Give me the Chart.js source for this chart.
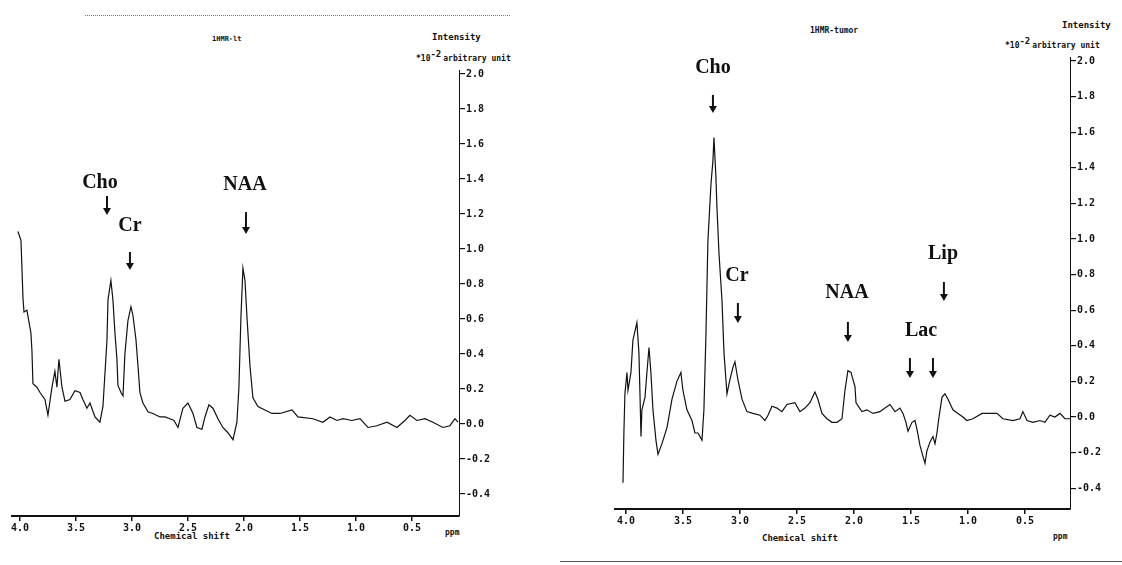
<!DOCTYPE html>
<html lang="en">
<head>
    <meta charset="UTF-8">
    <title>1H MR spectra</title>
    <script src="https://cdn.jsdelivr.net/npm/chart.js"></script>
    <style>
        body {
            margin: 0;
            background: #fff;
            width: 1122px;
            height: 565px;
            position: relative;
            overflow: hidden;
            font-family: 'DejaVu Sans Mono', monospace;
            color: #111;
        }
        .box { position: absolute; }
        .t {
            position: absolute;
            font-weight: bold;
            white-space: nowrap;
            line-height: 1;
        }
        .t sup { font-size: 9px; vertical-align: 4px; margin-right: 2px; }
        .scan-top { position: absolute; left: 85px; top: 15px; width: 425px; border-top: 1px dotted #777; }
        .scan-bottom { position: absolute; left: 560px; top: 561px; width: 562px; border-top: 1px solid #555; }
    </style>
</head>
<body>
    <div class="scan-top"></div>
    <div class="scan-bottom"></div>

    <div class="t" style="left:212px;top:36px;font-size:7px">1HMR-lt</div>
    <div class="t" style="left:432px;top:33px;font-size:9px">Intensity</div>
    <div class="t" style="left:416px;top:50px;font-size:8px">*10<sup>-2</sup>arbitrary unit</div>
    <div class="t" style="left:154px;top:532px;font-size:9px">Chemical shift</div>
    <div class="t" style="left:445px;top:529px;font-size:8px">ppm</div>

    <div class="t" style="left:810px;top:27px;font-size:8px">1HMR-tumor</div>
    <div class="t" style="left:1062px;top:21px;font-size:9px">Intensity</div>
    <div class="t" style="left:1005px;top:37px;font-size:8px">*10<sup>-2</sup>arbitrary unit</div>
    <div class="t" style="left:762px;top:534px;font-size:9px">Chemical shift</div>
    <div class="t" style="left:1053px;top:533px;font-size:8px">ppm</div>

    <div class="box" style="left:0;top:60px"><canvas id="ltChart" width="504" height="486"></canvas></div>
    <div class="box" style="left:600px;top:47px"><canvas id="tuChart" width="515" height="492"></canvas></div>

    <script>
        // chemical shift (ppm) and intensity (*10^-2 arbitrary unit)
        const ltShift = [4.018, 3.991, 3.973, 3.964, 3.938, 3.902, 3.893, 3.884, 3.848, 3.821, 3.777, 3.750, 3.714, 3.688, 3.670, 3.652, 3.625, 3.598, 3.554, 3.509,
            3.464, 3.438, 3.402, 3.375, 3.330, 3.286, 3.259, 3.223, 3.214, 3.188, 3.170, 3.152, 3.134, 3.125, 3.098, 3.080, 3.063, 3.036, 3.009, 2.991,
            2.964, 2.946, 2.929, 2.902, 2.857, 2.813, 2.750, 2.705, 2.661, 2.625, 2.589, 2.545, 2.500, 2.455, 2.420, 2.375, 2.348, 2.313, 2.277, 2.232,
            2.188, 2.143, 2.098, 2.063, 2.045, 2.027, 2.009, 1.991, 1.973, 1.946, 1.920, 1.875, 1.813, 1.750, 1.696, 1.679, 1.571, 1.518, 1.384, 1.295,
            1.232, 1.170, 1.116, 1.036, 0.964, 0.893, 0.813, 0.723, 0.634, 0.563, 0.518, 0.455, 0.384, 0.313, 0.223, 0.161, 0.116, 0.089];
        const ltIntensity = [1.10, 1.05, 0.72, 0.64, 0.65, 0.52, 0.42, 0.23, 0.21, 0.18, 0.14, 0.05, 0.21, 0.30, 0.21, 0.37, 0.21, 0.13, 0.14, 0.19,
            0.18, 0.14, 0.09, 0.12, 0.04, 0.01, 0.10, 0.48, 0.71, 0.82, 0.71, 0.52, 0.37, 0.22, 0.18, 0.16, 0.40, 0.59, 0.67, 0.62,
            0.48, 0.33, 0.18, 0.12, 0.07, 0.06, 0.04, 0.04, 0.03, 0.02, -0.02, 0.09, 0.12, 0.06, -0.02, -0.03, 0.04, 0.11, 0.09, 0.03,
            -0.02, -0.05, -0.09, 0.01, 0.21, 0.61, 0.89, 0.82, 0.61, 0.33, 0.15, 0.10, 0.08, 0.06, 0.06, 0.06, 0.08, 0.04, 0.03, 0.01,
            0.04, 0.02, 0.03, 0.02, 0.03, -0.02, -0.01, 0.01, -0.02, 0.02, 0.05, 0.02, 0.03, 0.01, -0.02, -0.01, 0.03, 0.01];

        const tuShift = [4.026, 4.018, 4.009, 3.991, 3.982, 3.956, 3.939, 3.904, 3.886, 3.877, 3.868, 3.860, 3.833, 3.816, 3.798, 3.781, 3.763, 3.737, 3.719, 3.684,
            3.640, 3.596, 3.553, 3.518, 3.500, 3.465, 3.421, 3.395, 3.368, 3.333, 3.316, 3.298, 3.281, 3.254, 3.237, 3.228, 3.211, 3.202, 3.184, 3.158,
            3.140, 3.123, 3.114, 3.088, 3.061, 3.044, 3.018, 2.982, 2.939, 2.886, 2.825, 2.781, 2.754, 2.719, 2.675, 2.632, 2.588, 2.518, 2.474, 2.430,
            2.386, 2.342, 2.316, 2.281, 2.237, 2.193, 2.149, 2.105, 2.079, 2.053, 2.026, 1.991, 1.982, 1.930, 1.886, 1.833, 1.772, 1.728, 1.684, 1.640,
            1.596, 1.570, 1.544, 1.526, 1.491, 1.465, 1.447, 1.421, 1.395, 1.377, 1.360, 1.333, 1.307, 1.289, 1.272, 1.254, 1.228, 1.202, 1.175, 1.132,
            1.088, 1.044, 1.009, 0.956, 0.877, 0.807, 0.746, 0.693, 0.605, 0.544, 0.518, 0.482, 0.430, 0.368, 0.325, 0.281, 0.237, 0.193, 0.149, 0.105];
        const tuIntensity = [-0.37, -0.09, 0.13, 0.25, 0.15, 0.25, 0.43, 0.53, 0.36, 0.13, -0.11, 0.04, 0.11, 0.25, 0.39, 0.25, 0.04, -0.13, -0.21, -0.15,
            -0.06, 0.10, 0.20, 0.25, 0.15, 0.04, -0.02, -0.09, -0.09, -0.13, 0.04, 0.47, 0.99, 1.31, 1.44, 1.57, 1.35, 1.18, 0.92, 0.66,
            0.36, 0.21, 0.13, 0.21, 0.28, 0.31, 0.21, 0.10, 0.03, 0.02, 0.01, -0.02, 0.01, 0.06, 0.05, 0.03, 0.07, 0.08, 0.03, 0.05,
            0.08, 0.14, 0.10, 0.02, -0.01, -0.03, -0.03, -0.01, 0.15, 0.26, 0.25, 0.17, 0.08, 0.03, 0.04, 0.02, 0.03, 0.05, 0.07, 0.03,
            0.05, 0.02, -0.03, -0.08, -0.03, -0.02, -0.07, -0.16, -0.22, -0.26, -0.19, -0.14, -0.11, -0.15, -0.09, 0.00, 0.11, 0.13, 0.10, 0.04,
            0.02, 0.00, -0.02, -0.01, 0.02, 0.02, 0.02, -0.01, -0.02, -0.01, 0.03, -0.02, -0.03, -0.02, -0.03, 0.01, 0.00, 0.02, -0.01, -0.01];

        const shiftTicks = [4.0, 3.5, 3.0, 2.5, 2.0, 1.5, 1.0, 0.5];
        const intensityTicks = [2.0, 1.8, 1.6, 1.4, 1.2, 1.0, 0.8, 0.6, 0.4, 0.2, 0.0, -0.2, -0.4];

        // metabolite labels: [name, ppm, intensity] and arrows: [ppm, top, bottom]
        const ltLabels = [['Cho', 3.286, 1.377], ['Cr', 3.018, 1.131], ['NAA', 1.991, 1.366]];
        const ltArrows = [[3.223, 1.303, 1.194], [3.018, 0.983, 0.880], [1.982, 1.211, 1.086]];
        const tuLabels = [['Cho', 3.237, 1.961], ['Cr', 3.026, 0.792], ['NAA', 2.061, 0.697], ['Lip', 1.219, 0.916], ['Lac', 1.412, 0.483]];
        const tuArrows = [[3.237, 1.809, 1.708], [3.018, 0.640, 0.528], [2.053, 0.534, 0.421], [1.211, 0.758, 0.652], [1.509, 0.331, 0.219], [1.307, 0.331, 0.219]];

        const ink = '#111';
        const tickFont = { family: "'DejaVu Sans Mono', monospace", size: 10, weight: 'bold' };

        const peakLabels = {
            id: 'peakLabels',
            afterDatasetsDraw(chart, args, opts) {
                const ctx = chart.ctx, x = chart.scales.x, y = chart.scales.y;
                ctx.save();
                ctx.fillStyle = ink;
                ctx.strokeStyle = ink;
                ctx.font = "bold 20px 'Liberation Serif', serif";
                ctx.textAlign = 'center';
                ctx.textBaseline = 'middle';
                opts.labels.forEach(l => {
                    ctx.fillText(l[0], x.getPixelForValue(l[1]), y.getPixelForValue(l[2]));
                });
                opts.arrows.forEach(a => {
                    const px = x.getPixelForValue(a[0]);
                    const top = y.getPixelForValue(a[1]);
                    const bot = y.getPixelForValue(a[2]);
                    ctx.lineWidth = 2;
                    ctx.beginPath();
                    ctx.moveTo(px, top);
                    ctx.lineTo(px, bot - 6);
                    ctx.stroke();
                    ctx.beginPath();
                    ctx.moveTo(px - 4, bot - 7);
                    ctx.lineTo(px + 4, bot - 7);
                    ctx.lineTo(px, bot);
                    ctx.closePath();
                    ctx.fill();
                });
                ctx.restore();
            }
        };

        function makeSpectrum(id, shift, intensity, xr, yr, labels, arrows, pad) {
            const points = shift.map((s, i) => ({ x: s, y: intensity[i] }));
            return new Chart(document.getElementById(id), {
                type: 'scatter',
                data: {
                    datasets: [{
                        data: points,
                        showLine: true,
                        borderColor: ink,
                        borderWidth: 1.2,
                        pointRadius: 0,
                        tension: 0
                    }]
                },
                options: {
                    responsive: false,
                    animation: false,
                    layout: { padding: pad },
                    plugins: {
                        legend: { display: false },
                        tooltip: { enabled: false },
                        peakLabels: { labels: labels, arrows: arrows }
                    },
                    scales: {
                        x: {
                            type: 'linear',
                            reverse: true,
                            min: xr[0],
                            max: xr[1],
                            afterBuildTicks: s => { s.ticks = shiftTicks.map(v => ({ value: v })); },
                            afterFit: s => { s.height = 30; },
                            ticks: { callback: v => v.toFixed(1), color: ink, font: tickFont, padding: 1, maxRotation: 0, autoSkip: false },
                            grid: { drawOnChartArea: false, tickLength: 5, color: ink, lineWidth: 1.5 },
                            border: { color: ink, width: 2 }
                        },
                        y: {
                            position: 'right',
                            min: yr[0],
                            max: yr[1],
                            afterBuildTicks: s => { s.ticks = intensityTicks.map(v => ({ value: v })); },
                            afterFit: s => { s.width = 45; },
                            ticks: { callback: v => v.toFixed(1), color: ink, font: tickFont, padding: 1 },
                            grid: { drawOnChartArea: false, tickLength: 6, color: ink, lineWidth: 1.2 },
                            border: { color: ink, width: 1, dash: [3, 2] }
                        }
                    }
                },
                plugins: [peakLabels]
            });
        }

        makeSpectrum('ltChart', ltShift, ltIntensity, [0.080, 4.071], [-0.526, 2.023], ltLabels, ltArrows, { left: 12, top: 10, right: 0, bottom: 0 });
        makeSpectrum('tuChart', tuShift, tuIntensity, [0.105, 4.096], [-0.517, 2.022], tuLabels, tuArrows, { left: 15, top: 10, right: 0, bottom: 0 });
    </script>
</body>
</html>
